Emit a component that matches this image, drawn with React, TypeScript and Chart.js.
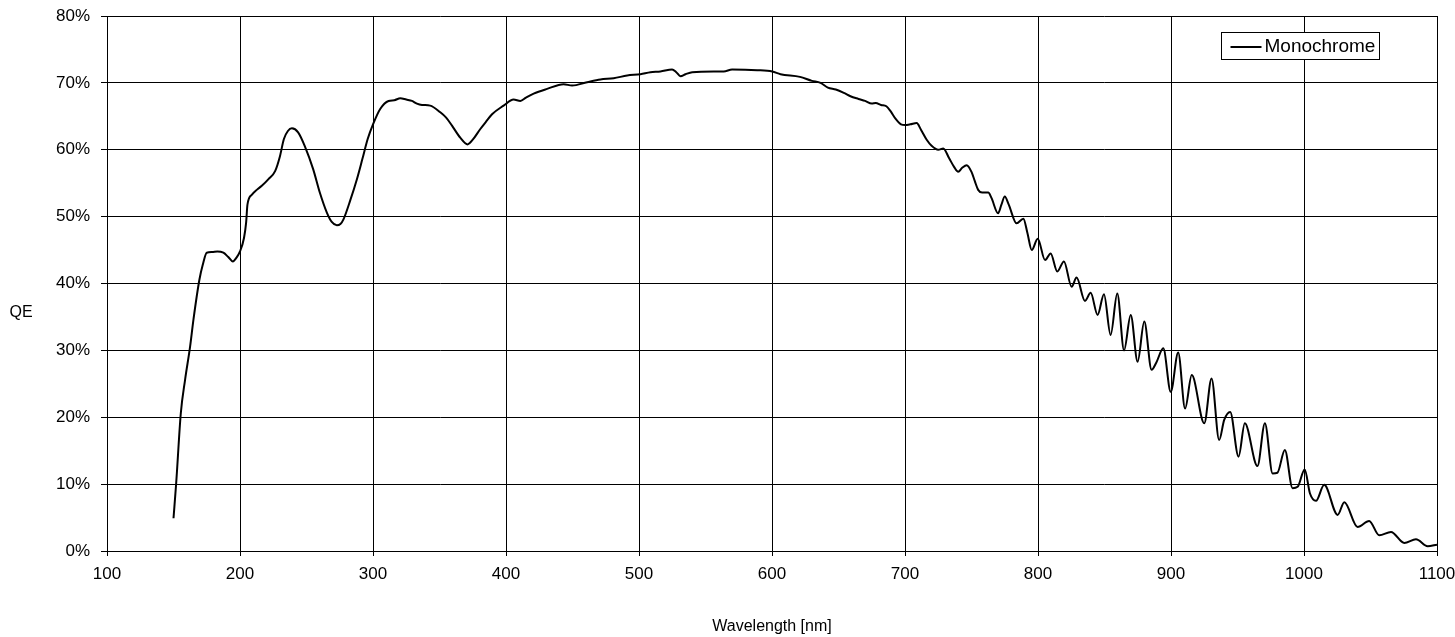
import React, { useEffect, useRef } from "react";
import { Chart, registerables } from "chart.js";

Chart.register(...registerables);

const SERIES_LABEL = "Monochrome";
const X_TITLE = "Wavelength [nm]";
const Y_TITLE = "QE";
const X_TICKS = [100, 200, 300, 400, 500, 600, 700, 800, 900, 1000, 1100];
const Y_TICKS = [0, 10, 20, 30, 40, 50, 60, 70, 80];

const WAVELENGTH = [
  150, 152, 155.5, 158.7, 162.5, 165, 169.5, 172, 175, 179, 183, 187.5, 191, 194.6, 197.5, 200,
  203, 204.6, 205.6, 209, 212.6, 216.4, 221.4, 226.4, 230, 233, 236, 239, 243.7, 249, 255, 260,
  265.3, 269, 272.8, 275.5, 277.8, 283, 287.9, 292, 296, 300, 305.4, 311.7, 316, 320.5, 325,
  329.3, 333, 336.8, 343, 350.6, 355, 359.4, 365.6, 371.1, 375, 380.7, 385, 389.5, 398.2, 405.7,
  410.8, 415, 420.8, 430.9, 443.3, 449.7, 461, 471, 481, 491.1, 501.1, 508.6, 516.1, 524.9, 528,
  531.2, 535, 540, 556.2, 563.7, 570, 588.9, 600.2, 606.4, 621, 630, 636.5, 642, 648, 654, 659,
  665, 670, 675, 678, 682, 686, 689, 693, 697, 700, 704, 708.8, 712, 716.3, 720, 725, 728.8, 733,
  737, 740, 743, 746.4, 750, 752.5, 755, 758, 762.6, 765, 770, 772.5, 775, 778, 783.9, 789, 792,
  795.3, 799.8, 805.3, 809.5, 814.5, 819.5, 825.3, 829, 835.3, 839.6, 844.8, 849.6, 854.6, 859.6,
  864.7, 869.7, 874.9, 879.9, 885.4, 889, 894.2, 899.8, 905.4, 910.6, 915.6, 925, 930.5, 936.2,
  940, 944.5, 950.8, 955.5, 965, 970.6, 976.4, 980, 985.6, 991.4, 995.2, 1000.5, 1004.5, 1009,
  1015.2, 1025.3, 1030.3, 1040.3, 1049, 1056.6, 1065.4, 1075.4, 1084.2, 1093, 1100,
];

const QE = [
  4.9, 10.1, 20.6, 25.6, 30.6, 34.6, 40.6, 42.8, 44.6, 44.7, 44.8, 44.6, 44.0, 43.3, 43.9, 44.8,
  46.8, 49.1, 51.8, 53.3, 54.0, 54.6, 55.6, 56.8, 59.0, 61.6, 62.8, 63.2, 62.6, 60.4, 57.1, 53.6,
  50.6, 49.2, 48.7, 48.9, 49.6, 52.5, 55.6, 58.6, 61.6, 63.8, 66.1, 67.3, 67.4, 67.7, 67.5,
  67.3, 66.9, 66.7, 66.6, 65.6, 64.8, 63.6, 61.8, 60.8, 61.5, 63.1, 64.2, 65.3, 66.6, 67.5,
  67.3, 67.8, 68.4, 69.1, 69.8, 69.6, 70.1, 70.5, 70.7, 71.1, 71.3, 71.6, 71.7, 72.0, 71.6,
  71.0, 71.3, 71.6, 71.7, 71.7, 72.0, 71.9, 71.7, 71.3, 70.9, 70.3, 70.0, 69.3, 69.0, 68.5, 68.0,
  67.6, 67.3, 66.9, 67.0, 66.7, 66.5, 65.8, 64.6, 63.8, 63.7, 63.8, 64.0, 63.0, 61.5, 60.6, 60.0, 60.2, 58.8,
  57.4, 56.7, 57.3, 57.7, 56.7, 55.3, 54.0, 53.6, 53.6, 52.8, 50.5, 51.8, 53.0, 51.8, 49.0, 49.7, 47.6,
  45.0, 46.7, 43.5, 44.5, 41.8, 43.3, 39.5, 40.9, 37.4, 38.6, 35.3, 38.4, 32.3, 38.5,
  30.0, 35.3, 28.3, 34.3, 27.1, 28.2, 30.3, 23.8, 29.7, 21.3, 26.3, 19.1, 25.8, 16.6,
  19.6, 20.8, 14.1, 19.1, 12.7, 19.1, 11.6, 11.7, 15.1, 9.4, 9.6, 12.2, 8.6, 7.5,
  9.9, 5.4, 7.3, 3.6, 4.5, 2.35, 2.85, 1.2, 1.75, 0.7, 0.95,
];

const FONT = "'Liberation Sans', Arial, Helvetica, sans-serif";

export default function App() {
  const canvasRef = useRef<HTMLCanvasElement | null>(null);

  useEffect(() => {
    document.body.style.margin = "0";
    const canvas = canvasRef.current;
    if (!canvas) return;

    const overlay = {
      id: "overlayText",
      afterDraw(chart: any) {
        const ctx = chart.ctx;
        ctx.save();
        ctx.fillStyle = "#000";
        ctx.font = `16px ${FONT}`;
        ctx.textAlign = "center";
        ctx.textBaseline = "middle";
        ctx.fillText(Y_TITLE, 21, 313);
        const lx = 1221.5, ly = 32.5, lw = 158, lh = 27;
        ctx.fillStyle = "#fff";
        ctx.fillRect(lx, ly, lw, lh);
        ctx.strokeStyle = "#000";
        ctx.lineWidth = 1;
        ctx.strokeRect(lx, ly, lw, lh);
        ctx.beginPath();
        ctx.lineWidth = 2;
        ctx.moveTo(lx + 9, ly + 14.5);
        ctx.lineTo(lx + 40, ly + 14.5);
        ctx.stroke();
        ctx.fillStyle = "#000";
        ctx.font = `19px ${FONT}`;
        ctx.textAlign = "left";
        ctx.textBaseline = "middle";
        ctx.fillText(SERIES_LABEL, lx + 43, ly + 14.5);
        ctx.restore();
      },
    };

    const chart = new Chart(canvas, {
      type: "line",
      data: {
        datasets: [
          {
            label: SERIES_LABEL,
            data: WAVELENGTH.map((x, i) => ({ x, y: QE[i] })),
            borderColor: "#000",
            borderWidth: 2,
            pointRadius: 0,
            fill: false,
            cubicInterpolationMode: "monotone",
          },
        ],
      },
      options: {
        animation: false,
        responsive: false,
        devicePixelRatio: 1,
        layout: { padding: { top: 16, right: 18, left: 0, bottom: 0 } },
        plugins: {
          legend: { display: false },
          tooltip: { enabled: false },
        },
        scales: {
          x: {
            type: "linear",
            min: 100,
            max: 1100,
            afterBuildTicks: (scale: any) => {
              scale.ticks = X_TICKS.map((v) => ({ value: v }));
            },
            afterFit: (scale: any) => {
              scale.height = 86;
              scale.paddingLeft = 0;
              scale.paddingRight = 0;
            },
            grid: { color: "#000", lineWidth: 1, tickLength: 5, drawTicks: true },
            border: { color: "#000", width: 1 },
            ticks: {
              color: "#000",
              font: { family: FONT, size: 17 },
              padding: 8,
              maxRotation: 0,
              autoSkip: false,
              callback: (v: any) => String(v),
            },
            title: {
              display: true,
              text: X_TITLE,
              color: "#000",
              font: { family: FONT, size: 16 },
              padding: { top: 0, bottom: 1 },
            },
          },
          y: {
            type: "linear",
            min: 0,
            max: 80,
            afterBuildTicks: (scale: any) => {
              scale.ticks = Y_TICKS.map((v) => ({ value: v }));
            },
            afterFit: (scale: any) => {
              scale.width = 107;
              scale.paddingTop = 0;
              scale.paddingBottom = 0;
            },
            grid: { color: "#000", lineWidth: 1, tickLength: 6, drawTicks: true },
            border: { color: "#000", width: 1 },
            ticks: {
              color: "#000",
              font: { family: FONT, size: 17 },
              padding: 11,
              callback: (v: any) => `${v}%`,
              autoSkip: false,
            },
          },
        },
      },
      plugins: [overlay],
    });

    return () => chart.destroy();
  }, []);

  return (
    <div style={{ width: 1455, height: 637 }}>
      <canvas ref={canvasRef} width={1455} height={637} />
    </div>
  );
}
